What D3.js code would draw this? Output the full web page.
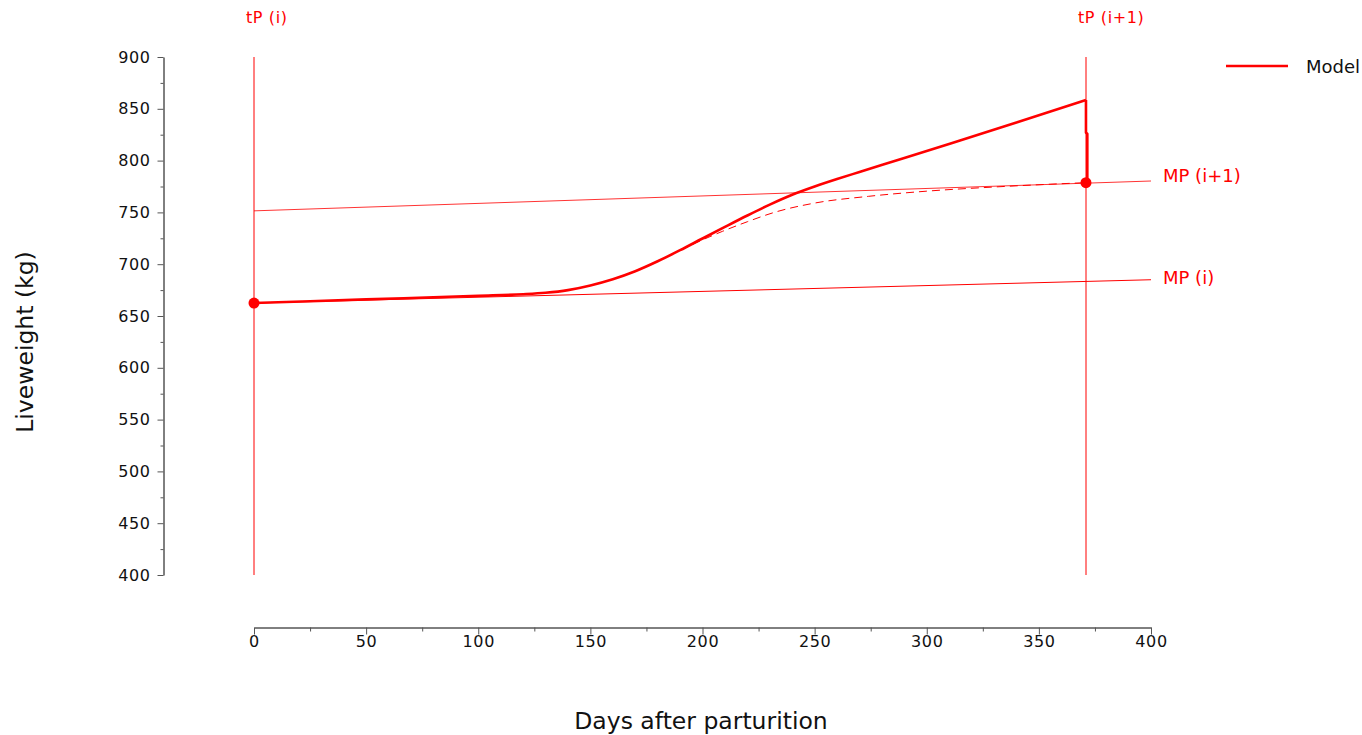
<!DOCTYPE html>
<html>
<head>
<meta charset="utf-8">
<script src="https://cdn.jsdelivr.net/npm/d3@7"></script>
<style>
  html, body { margin: 0; padding: 0; background: #fff; }
  svg { display: block; font-family: "DejaVu Sans", sans-serif; }
</style>
</head>
<body>
<svg id="chart" width="1362" height="735"></svg>
<script>
// Liveweight trajectory between two parturitions (days after parturition, kg)
const modelDays   = [0, 50, 100, 120, 130, 140, 150, 160, 170, 180, 190, 200, 210, 220, 230, 240, 250, 260, 270, 290, 311, 340, 371, 371, 371.6, 371.6];
const modelWeight = [662.5, 666, 669.5, 671, 672.4, 675, 679.5, 685.5, 693.2, 702.8, 713.5, 724.8, 736, 747, 757.5, 767, 775, 782.2, 789, 802.5, 816.8, 836.7, 858.5, 827, 826, 778.7];

// Weight without the conceptus (dashed)
const dashDays   = [180, 190, 197, 209, 220, 232, 250, 274, 300, 330, 355, 371];
const dashWeight = [702.8, 713.3, 720.5, 731.8, 741, 750, 759, 765.5, 770.5, 774.5, 777.2, 778.7];

// Mature weight reference lines at parturition i and i+1
const mpDays       = [0, 400];
const mpWeight     = [662.5, 685];
const mpNextWeight = [751.5, 780.3];

// Parturition days and observed weights
const partDays    = [0, 371];
const partWeights = [662.5, 778.7];
const partLabels  = ["tP (i)", "tP (i+1)"];

const xTicks = [0, 50, 100, 150, 200, 250, 300, 350, 400];
const yTicks = [400, 450, 500, 550, 600, 650, 700, 750, 800, 850, 900];

const red = "#ff0000";
const ink = "#111";
const svg = d3.select("#chart");

const x = d3.scaleLinear().domain([0, 400]).range([254, 1151]);
const y = d3.scaleLinear().domain([400, 900]).range([575, 57]);

function styleTicks(g) {
  g.selectAll("text").attr("font-size", 16).attr("letter-spacing", 0.6)
    .attr("fill", ink).attr("font-family", "DejaVu Sans");
  g.selectAll(".tick line").attr("stroke", "#555");
}

// Y axis with minor ticks
const yAxis = svg.append("g").attr("transform", "translate(163.5,0)");
yAxis.call(d3.axisLeft(y).tickValues(yTicks).tickSize(6).tickPadding(7).tickSizeOuter(0));
yAxis.append("g").call(d3.axisLeft(y).tickValues(d3.range(425, 900, 50)).tickSize(3).tickFormat("").tickSizeOuter(0))
  .select(".domain").remove();
styleTicks(yAxis);
yAxis.selectAll(".tick text").attr("x", -13);

// X axis with minor ticks
const xAxis = svg.append("g").attr("transform", "translate(0,627.5)");
xAxis.call(d3.axisBottom(x).tickValues(xTicks).tickSize(7).tickPadding(8).tickSizeOuter(0));
xAxis.append("g").call(d3.axisBottom(x).tickValues(d3.range(25, 400, 50)).tickSize(4).tickFormat("").tickSizeOuter(0))
  .select(".domain").remove();
styleTicks(xAxis);
xAxis.selectAll(".tick text").attr("dy", null).attr("y", 19.5);

// Axis titles
svg.append("text").attr("x", 701).attr("y", 729).attr("text-anchor", "middle")
  .attr("font-size", 23.5).attr("fill", ink).text("Days after parturition");
svg.append("text").attr("transform", "translate(33,342) rotate(-90)").attr("text-anchor", "middle")
  .attr("font-size", 23.5).attr("fill", ink).text("Liveweight (kg)");

// Parturition verticals and labels
partDays.forEach((d, i) => {
  const px = Math.round(x(d));
  svg.append("line").attr("x1", px).attr("x2", px).attr("y1", y(900)).attr("y2", y(400))
    .attr("stroke", red).attr("stroke-width", 1);
  svg.append("text").attr("x", px - 8).attr("y", 23).attr("font-size", 16).attr("letter-spacing", 0.6)
    .attr("fill", red).text(partLabels[i]);
});

// Mature weight lines
const mpLine = d3.line().x((d, i) => x(mpDays[i])).y(d => y(d));
svg.append("path").attr("d", mpLine(mpWeight)).attr("fill", "none").attr("stroke", red).attr("stroke-width", 1);
svg.append("path").attr("d", mpLine(mpNextWeight)).attr("fill", "none").attr("stroke", red).attr("stroke-width", 1).attr("stroke-opacity", 0.8);
svg.append("text").attr("x", 1163).attr("y", y(mpWeight[1]) + 4).attr("font-size", 18).attr("fill", red).text("MP (i)");
svg.append("text").attr("x", 1163).attr("y", y(mpNextWeight[1]) + 1).attr("font-size", 18).attr("fill", red).text("MP (i+1)");

// Dashed trajectory
svg.append("path")
  .attr("d", d3.line().curve(d3.curveMonotoneX).x((d, i) => x(dashDays[i])).y(d => y(d))(dashWeight))
  .attr("fill", "none").attr("stroke", red).attr("stroke-width", 1).attr("stroke-dasharray", "8,5");

// Model trajectory: smooth growth up to parturition, then the drop at calving
const modelPts = modelDays.map((d, i) => [d, modelWeight[i]]);
let split = 1;
while (split < modelPts.length && modelPts[split][0] > modelPts[split - 1][0]) split++;
const growth = modelPts.slice(0, split);
const drop = modelPts.slice(split - 1);
svg.append("path")
  .attr("d", d3.line().curve(d3.curveMonotoneX).x(p => x(p[0])).y(p => y(p[1]))(growth))
  .attr("fill", "none").attr("stroke", red).attr("stroke-width", 2.6).attr("stroke-linejoin", "round");
svg.append("path")
  .attr("d", d3.line().x(p => x(p[0])).y(p => y(p[1]))(drop))
  .attr("fill", "none").attr("stroke", red).attr("stroke-width", 2.6).attr("stroke-linejoin", "round");

// Observed weights at parturition
svg.selectAll("circle.obs").data(partWeights).enter().append("circle").attr("class", "obs")
  .attr("cx", (d, i) => x(partDays[i])).attr("cy", d => y(d)).attr("r", 5.5).attr("fill", red);

// Legend
svg.append("line").attr("x1", 1226).attr("x2", 1288).attr("y1", 66).attr("y2", 66)
  .attr("stroke", red).attr("stroke-width", 2.6);
svg.append("text").attr("x", 1306).attr("y", 72.5).attr("font-size", 18).attr("fill", ink).text("Model");
</script>
</body>
</html>
